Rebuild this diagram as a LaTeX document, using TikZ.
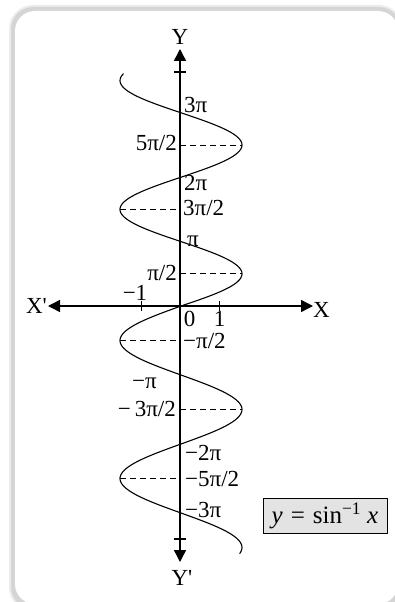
\documentclass[tikz,border=0pt]{standalone}
\usepackage{fontspec}
\setmainfont{Liberation Serif}
\usetikzlibrary{arrows.meta}
\begin{document}
\begin{tikzpicture}[x=1pt,y=-1pt,
  lbl/.style={font=\fontsize{23}{26}\selectfont, inner sep=0pt},
  axisline/.style={line width=1.4pt, -{Triangle[length=12pt,width=12pt]}},
  curveline/.style={line width=1.1pt},
  guide/.style={dash pattern=on 6pt off 4pt, line width=0.9pt},
  tickmark/.style={line width=1.3pt}]
\useasboundingbox (0,0) rectangle (394,602);
% frame
\fill[gray!15, rounded corners=24pt] (9,5) rectangle (403,611);
\fill[gray!33, rounded corners=22pt] (11,7) rectangle (401,609);
\fill[white, rounded corners=20pt] (15,11) rectangle (398,604);
% axes
\coordinate (O) at (180,306);
\coordinate (ytop) at (180,49);
\coordinate (ybot) at (180,562);
\coordinate (xl) at (48,306);
\coordinate (xr) at (313,306);
\draw[axisline] (O) -- (ytop);
\draw[axisline] (O) -- (ybot);
\draw[axisline] (O) -- (xl);
\draw[axisline] (O) -- (xr);
% ticks
\coordinate (t1a) at (174,72); \coordinate (t1b) at (186,72);
\coordinate (t2a) at (174,539); \coordinate (t2b) at (186,539);
\coordinate (t3a) at (141,301); \coordinate (t3b) at (141,311);
\coordinate (t4a) at (219,301); \coordinate (t4b) at (219,311);
\draw[tickmark] (t1a) -- (t1b);
\draw[tickmark] (t2a) -- (t2b);
\draw[line width=0.9pt] (t3a) -- (t3b);
\draw[line width=0.9pt] (t4a) -- (t4b);
% curve
\draw[curveline] plot[domain=0:7.22, samples=200, smooth] ({181+61*sin(\x*90)},{306-32.2*\x});
\draw[curveline] plot[domain=0:-7.18, samples=200, smooth] ({181+61*sin(\x*90)},{306-34.5*\x});
% dashed guides
\coordinate (p5) at (242,145); \coordinate (a5) at (180,145);
\coordinate (p3) at (120,209.4); \coordinate (a3) at (180,209.4);
\coordinate (p1) at (242,273.8); \coordinate (a1) at (180,273.8);
\coordinate (m1) at (120,340.5); \coordinate (b1) at (180,340.5);
\coordinate (m3) at (242,409.5); \coordinate (b3) at (180,409.5);
\coordinate (m5) at (120,478.5); \coordinate (b5) at (180,478.5);
\draw[guide] (a5) -- (p5);
\draw[guide] (p3) -- (a3);
\draw[guide] (a1) -- (p1);
\draw[guide] (m1) -- (b1);
\draw[guide] (b3) -- (m3);
\draw[guide] (m5) -- (b5);
% axis labels
\node[lbl, anchor=base] (Ylab) at (180,45) {Y};
\node[lbl, anchor=base] (Yplab) at (182,585) {Y\textquotesingle};
\node[lbl, anchor=base west] (Xlab) at (313,317) {X};
\node[lbl, anchor=base east] (Xplab) at (47,313) {X\textquotesingle};
\node[lbl, anchor=base] (lm1) at (135,300) {−1};
\node[lbl, anchor=base] (l0) at (189.5,326) {0};
\node[lbl, anchor=base] (l1) at (219.5,326) {1};
% y labels
\node[lbl, anchor=base west] (k6) at (184,112) {3π};
\node[lbl, anchor=base east] (k5) at (177,150) {5π/2};
\node[lbl, anchor=base west] (k4) at (184,190) {2π};
\node[lbl, anchor=base west] (k3) at (183,215) {3π/2};
\node[lbl, anchor=base west] (k2) at (187,246) {π};
\node[lbl, anchor=base east] (k1) at (177,280) {π/2};
\node[lbl, anchor=base west] (km1) at (183,348) {−π/2};
\node[lbl, anchor=base west] (km2) at (132,388) {−π};
\node[lbl, anchor=base east] (km3) at (176,416) {−\,3π/2};
\node[lbl, anchor=base west] (km4) at (185,460) {−2π};
\node[lbl, anchor=base west] (km5) at (185,486) {−5π/2};
\node[lbl, anchor=base west] (km6) at (185,517) {−3π};
% equation box
\node[draw, fill=gray!22, line width=0.9pt, minimum width=124pt, minimum height=35pt, inner sep=0pt,
      font=\fontsize{25}{28}\selectfont] (eq) at (325,515.5)
      {\textit{y}\hspace{8pt}=\hspace{8pt}sin\textsuperscript{−1}\hspace{6pt}\textit{x}};
\end{tikzpicture}
\end{document}
